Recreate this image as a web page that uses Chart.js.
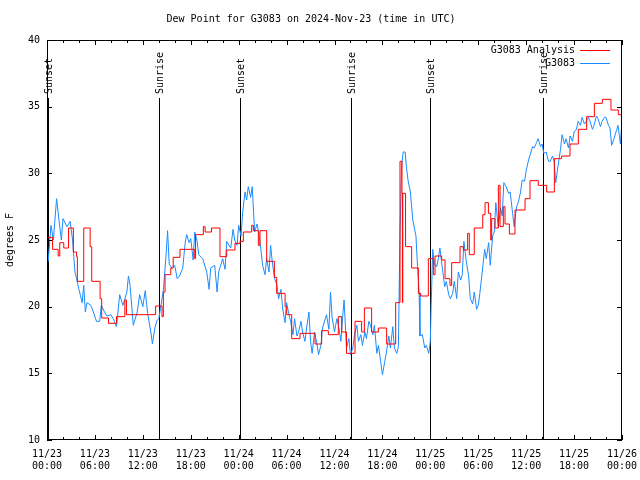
<!DOCTYPE html>
<html>
<head>
<meta charset="utf-8">
<script src="https://cdn.jsdelivr.net/npm/chart.js@4.4.1/dist/chart.umd.min.js"></script>
<style>
  html, body { margin: 0; padding: 0; background: #fff; }
  #wrap { width: 640px; height: 480px; }
</style>
</head>
<body>
<div id="wrap"><canvas id="dewpt-chart" width="640" height="480"></canvas></div>
<script>
// hours since 2024-11-23 00:00 UTC
const obsHours = [
  0, 0.15, 0.5, 0.8, 1.2, 1.5, 1.8, 2.0, 2.5, 2.9,
  3.2, 3.5, 3.7, 4.0, 4.4, 4.6, 4.8, 5.0, 5.5, 5.8,
  6.2, 6.6, 6.8, 7.2, 7.5, 8.0, 8.3, 8.7, 9.1, 9.5,
  10.0, 10.2, 10.4, 10.8, 11.3, 11.6, 12.0, 12.3, 12.6, 13.0,
  13.2, 13.5, 13.8, 14.0, 14.3, 14.6, 14.9, 15.1, 15.3, 15.6,
  16.0, 16.3, 16.6, 17.0, 17.3, 17.5, 17.8, 18.0, 18.3, 18.5,
  18.8, 19.0, 19.5, 20.0, 20.3, 20.5, 21.0, 21.3, 21.5, 22.0,
  22.3, 22.5, 23.0, 23.3, 23.5, 23.8, 24.0, 24.3, 24.5, 24.8,
  25.0, 25.2, 25.5, 25.7, 26.0, 26.3, 26.5, 26.8, 27.0, 27.3,
  27.5, 27.8, 28.0, 28.2, 28.5, 28.8, 29.0, 29.3, 29.5, 29.8,
  30.0, 30.3, 30.5, 30.8, 31.0, 31.3, 31.5, 31.8, 32.0, 32.3,
  32.5, 32.8, 33.0, 33.2, 33.5, 33.8, 34.0, 34.3, 34.5, 34.8,
  35.0, 35.3, 35.5, 35.7, 36.0, 36.3, 36.5, 36.8, 37.0, 37.2,
  37.5, 37.8, 38.0, 38.3, 38.5, 38.8, 39.0, 39.3, 39.5, 39.8,
  40.0, 40.3, 40.5, 40.8, 41.0, 41.3, 41.5, 41.8, 42.0, 42.3,
  42.5, 42.8, 43.0, 43.3, 43.5, 43.8, 44.0, 44.2, 44.4, 44.6,
  44.85, 45.0, 45.2, 45.5, 45.8, 46.0, 46.2, 46.4, 46.6, 46.7,
  47.0, 47.3, 47.5, 47.8, 48.0, 48.1, 48.3, 48.5, 48.8, 49.0,
  49.2, 49.5, 49.8, 50.0, 50.3, 50.5, 50.8, 51.0, 51.3, 51.5,
  51.8, 52.0, 52.2, 52.5, 52.8, 53.0, 53.3, 53.5, 53.8, 54.0,
  54.2, 54.5, 54.8, 55.0, 55.3, 55.5, 55.8, 56.0, 56.2, 56.5,
  56.8, 57.0, 57.2, 57.5, 57.8, 58.0, 58.3, 58.5, 58.8, 59.0,
  59.3, 59.5, 59.8, 60.0, 60.3, 60.5, 60.8, 61.0, 61.3, 61.5,
  61.8, 62.0, 62.2, 62.5, 62.8, 63.0, 63.3, 63.5, 63.7, 64.0,
  64.3, 64.5, 64.8, 65.0, 65.3, 65.5, 65.8, 66.0, 66.3, 66.5,
  66.8, 67.0, 67.3, 67.5, 67.8, 68.0, 68.3, 68.5, 68.8, 69.0,
  69.3, 69.5, 69.8, 70.0, 70.3, 70.5, 70.7, 71.0, 71.3, 71.5,
  71.8, 72.0
];
const obsDewpt = [
  25.0, 23.4, 26.1, 25.0, 28.1, 26.5, 25.0, 26.6, 26.0, 26.4,
  25.0, 22.6, 22.1, 21.3, 20.3, 21.6, 19.6, 20.3, 20.1, 19.6,
  18.9, 18.9, 20.1, 19.6, 19.3, 19.4, 19.1, 18.5, 20.9, 20.1,
  21.1, 22.3, 21.6, 18.6, 19.6, 20.9, 20.0, 21.2, 19.5, 18.1,
  17.2, 18.4, 19.0, 19.1, 20.2, 21.4, 23.8, 25.7, 23.2, 22.9,
  23.1, 22.1, 22.3, 22.9, 24.8, 25.4, 24.8, 25.1, 23.5, 25.6,
  24.9, 23.9, 23.6, 22.6, 21.3, 22.9, 23.1, 21.1, 22.6, 23.6,
  22.8, 24.9, 24.4, 25.8, 25.0, 24.6, 26.1, 25.3, 27.1, 28.6,
  28.0, 29.0, 28.2, 29.0, 25.6, 26.2, 25.6, 24.2, 23.1, 22.4,
  23.6, 22.6, 24.6, 23.4, 22.1, 21.6, 20.6, 21.3, 19.9, 18.8,
  20.3, 19.4, 18.9, 17.9, 19.1, 17.8, 18.1, 18.9, 18.1, 17.4,
  18.4, 19.6, 17.4, 16.5, 18.1, 17.2, 16.4, 17.1, 18.4, 19.0,
  19.4, 18.3, 21.1, 19.2, 18.1, 19.1, 18.6, 17.4, 19.1, 20.5,
  16.9, 17.6, 16.4, 16.9, 17.9, 18.6, 17.4, 17.9, 17.1, 18.1,
  17.6, 18.9, 18.6, 17.9, 18.6, 16.5, 17.1, 15.8, 14.9, 15.9,
  16.6, 17.8, 16.9, 18.5, 16.9, 16.5, 17.0, 25.5, 30.5, 31.6,
  31.6, 30.5, 29.5, 28.6, 26.5, 25.9, 25.3, 23.0, 21.0, 17.8,
  17.9, 16.9, 17.1, 16.5, 17.4, 20.0, 24.3, 23.2, 23.0, 23.6,
  24.4, 22.9, 21.5, 21.9, 20.9, 20.6, 21.0, 21.9, 20.6, 22.6,
  22.0, 22.4, 24.9, 23.4, 22.3, 20.6, 20.2, 21.1, 19.8, 20.1,
  21.0, 22.6, 24.3, 23.6, 24.8, 23.1, 25.3, 25.6, 27.8, 26.0,
  27.4, 26.8, 29.3, 29.0, 28.5, 28.6, 27.0, 26.0, 27.5, 27.8,
  28.6, 29.5, 29.4, 30.2, 31.0, 31.4, 32.0, 31.9, 32.3, 32.6,
  32.0, 32.2, 31.5, 31.6, 30.9, 30.9, 31.3, 30.9, 29.3, 30.6,
  31.8, 32.9, 32.2, 32.6, 31.9, 32.8, 32.4, 33.1, 33.3, 33.9,
  33.6, 34.2, 33.7, 33.9, 34.2, 33.9, 33.3, 33.6, 34.3, 34.1,
  33.5, 33.9, 34.2, 34.2, 33.6, 33.4, 32.1, 32.6, 33.2, 33.6,
  32.2, 34.0
];

// analysis: each value holds from its start hour until the next one
const anaHours = [
  0, 0.7, 1.4, 1.6, 2.1, 2.7, 3.3, 3.7, 3.8, 4.6,
  5.4, 5.6, 6.65, 6.85, 7.7, 8.7, 9.75, 9.95, 13.6, 14.4,
  14.57, 14.78, 15.5, 15.8, 16.65, 18.5, 18.6, 19.58, 19.8, 20.6,
  21.66, 22.5, 23.54, 24.17, 24.58, 25.63, 25.84, 26.46, 26.67, 27.51,
  28.47, 28.76, 29.81, 30.01, 30.64, 31.68, 33.56, 34.39, 35.23, 36.48,
  36.9, 37.5, 38.57, 39.4, 39.74, 40.65, 41.49, 42.53, 43.66, 44.2,
  44.45, 44.5, 44.55, 44.9, 45.66, 46.5, 46.8, 47.75, 48.38, 48.59,
  49.42, 49.84, 50.46, 50.67, 51.72, 52.13, 52.67, 52.88, 53.5, 54.56,
  54.85, 55.27, 55.56, 55.68, 56.1, 56.52, 56.73, 57.14, 57.35, 57.9,
  58.6, 59.86, 60.48, 61.52, 62.57, 63.53, 64.44, 65.49, 66.53, 67.58,
  68.54, 69.54, 70.62, 71.54, 72.0
];
const anaDewpt = [
  25.2, 24.3, 23.8, 24.8, 24.4, 25.9, 24.1, 23.75, 21.9, 25.9,
  24.5, 21.9, 20.6, 19.15, 18.75, 19.25, 20.5, 19.4, 20.05, 19.25,
  21.1, 22.4, 22.9, 23.7, 24.3, 23.6, 25.4, 26.0, 25.6, 25.9,
  23.75, 24.25, 24.75, 24.9, 25.6, 26.1, 25.7, 24.6, 25.7, 23.4,
  22.2, 21.0, 20.0, 19.4, 17.6, 18.0, 17.2, 18.2, 17.9, 19.25,
  18.1, 16.5, 18.9, 18.1, 19.9, 18.1, 18.4, 17.2, 20.3, 30.9,
  28.5, 20.3, 28.5, 24.5, 22.9, 21.0, 20.8, 23.6, 22.4, 23.8,
  23.5, 22.1, 21.6, 23.3, 24.5, 24.25, 25.5, 23.9, 25.9, 26.9,
  27.8, 27.0, 25.0, 26.6, 25.9, 29.1, 26.0, 27.5, 26.2, 25.45,
  27.25, 28.1, 29.45, 29.1, 28.6, 31.1, 31.3, 32.2, 33.3, 34.25,
  35.25, 35.55, 34.75, 34.4, 34.4
];

const tickHours = [0, 6, 12, 18, 24, 30, 36, 42, 48, 54, 60, 66, 72];
const tickDates = ['11/23', '11/23', '11/23', '11/23', '11/24', '11/24', '11/24', '11/24', '11/25', '11/25', '11/25', '11/25', '11/26'];
const tickTimes = ['00:00', '06:00', '12:00', '18:00', '00:00', '06:00', '12:00', '18:00', '00:00', '06:00', '12:00', '18:00', '00:00'];

const sunHours = [0.16, 14.05, 24.2, 38.05, 48.0, 62.15];
const sunLabels = ['Sunset', 'Sunrise', 'Sunset', 'Sunrise', 'Sunset', 'Sunrise'];

const MONO = '"DejaVu Sans Mono", monospace';
const FONT = '10px ' + MONO;

// gnuplot-ish frame: border, inward ticks, sun lines, legend
const gnuFrame = {
    id: 'gnuFrame',
    beforeDatasetsDraw(chart) {
        const { ctx, chartArea: a, scales: { x } } = chart;
        ctx.save();
        ctx.strokeStyle = '#000';
        ctx.lineWidth = 1;
        ctx.fillStyle = '#000';
        ctx.font = FONT;
        sunHours.forEach((h, i) => {
            const px = Math.round(x.getPixelForValue(h)) + 0.5;
            ctx.beginPath();
            ctx.moveTo(px, 98);
            ctx.lineTo(px, a.bottom);
            ctx.stroke();
            ctx.save();
            ctx.translate(px + 1, 94);
            ctx.rotate(-Math.PI / 2);
            ctx.textAlign = 'left';
            ctx.textBaseline = 'middle';
            ctx.fillText(sunLabels[i], 0, 0);
            ctx.restore();
        });
        ctx.restore();
    },
    afterDraw(chart) {
        const { ctx, chartArea: a, scales: { x, y } } = chart;
        ctx.save();
        ctx.strokeStyle = '#000';
        ctx.lineWidth = 1;
        ctx.strokeRect(a.left + 0.5, a.top + 0.5, a.right - a.left - 1, a.bottom - a.top - 1);

        ctx.beginPath();
        x.ticks.forEach(t => {
            const px = Math.round(x.getPixelForValue(t.value)) + 0.5;
            const len = tickHours.includes(t.value) ? 5 : 3;
            ctx.moveTo(px, a.bottom);
            ctx.lineTo(px, a.bottom - len);
            ctx.moveTo(px, a.top);
            ctx.lineTo(px, a.top + len);
        });
        y.ticks.forEach(t => {
            const py = Math.round(y.getPixelForValue(t.value)) + 0.5;
            ctx.moveTo(a.left, py);
            ctx.lineTo(a.left + 5, py);
            ctx.moveTo(a.right, py);
            ctx.lineTo(a.right - 5, py);
        });
        ctx.stroke();

        // legend, gnuplot style: text right-aligned, sample line after it
        ctx.font = FONT;
        ctx.textAlign = 'right';
        ctx.textBaseline = 'middle';
        chart.data.datasets.forEach((ds, i) => {
            const ly = a.top + 10.5 + i * 13;
            ctx.fillStyle = '#000';
            ctx.fillText(ds.label, a.right - 47, ly);
            ctx.strokeStyle = ds.borderColor;
            ctx.beginPath();
            ctx.moveTo(a.right - 42, ly);
            ctx.lineTo(a.right - 12, ly);
            ctx.stroke();
        });
        ctx.restore();
    }
};

const ctx = document.getElementById('dewpt-chart').getContext('2d');

const dewptChart = new Chart(ctx, {
    type: 'line',
    data: {
        datasets: [{
            label: 'G3083 Analysis',
            data: anaHours.map((h, i) => ({ x: h, y: anaDewpt[i] })),
            borderColor: '#ff0000',
            borderWidth: 1,
            pointRadius: 0,
            stepped: true,
            tension: 0
        }, {
            label: 'G3083',
            data: obsHours.map((h, i) => ({ x: h, y: obsDewpt[i] })),
            borderColor: '#1a8cff',
            borderWidth: 1,
            pointRadius: 0,
            tension: 0
        }]
    },
    options: {
        responsive: false,
        animation: false,
        events: [],
        layout: { padding: { top: 0, right: 18, bottom: 0, left: 0 } },
        plugins: {
            legend: { display: false },
            tooltip: { enabled: false },
            title: {
                display: true,
                text: 'Dew Point for G3083 on 2024-Nov-23 (time in UTC)',
                color: '#000',
                font: { family: MONO, size: 10, weight: 'normal', lineHeight: 1.2 },
                padding: { top: 13, bottom: 15 }
            }
        },
        scales: {
            x: {
                type: 'linear',
                min: 0,
                max: 72,
                grid: { display: false, drawTicks: false },
                border: { display: false },
                afterFit: s => {
                    s.height = 40;
                    s.paddingLeft = 0;
                    s.paddingRight = 0;
                },
                ticks: {
                    stepSize: 2,
                    autoSkip: false,
                    maxRotation: 0,
                    padding: 8,
                    color: '#000',
                    font: { family: MONO, size: 10, lineHeight: 1.2 },
                    callback: v => {
                        const i = tickHours.indexOf(v);
                        return i >= 0 ? [tickDates[i], tickTimes[i]] : '';
                    }
                }
            },
            y: {
                min: 10,
                max: 40,
                grid: { display: false, drawTicks: false },
                border: { display: false },
                afterFit: s => { s.width = 47; },
                ticks: {
                    stepSize: 5,
                    padding: 7,
                    color: '#000',
                    font: { family: MONO, size: 10 }
                },
                title: {
                    display: true,
                    text: 'degrees F',
                    color: '#000',
                    padding: { top: 4, bottom: 0 },
                    font: { family: MONO, size: 10, lineHeight: 1.2 }
                }
            }
        }
    },
    plugins: [gnuFrame]
});
</script>
</body>
</html>
